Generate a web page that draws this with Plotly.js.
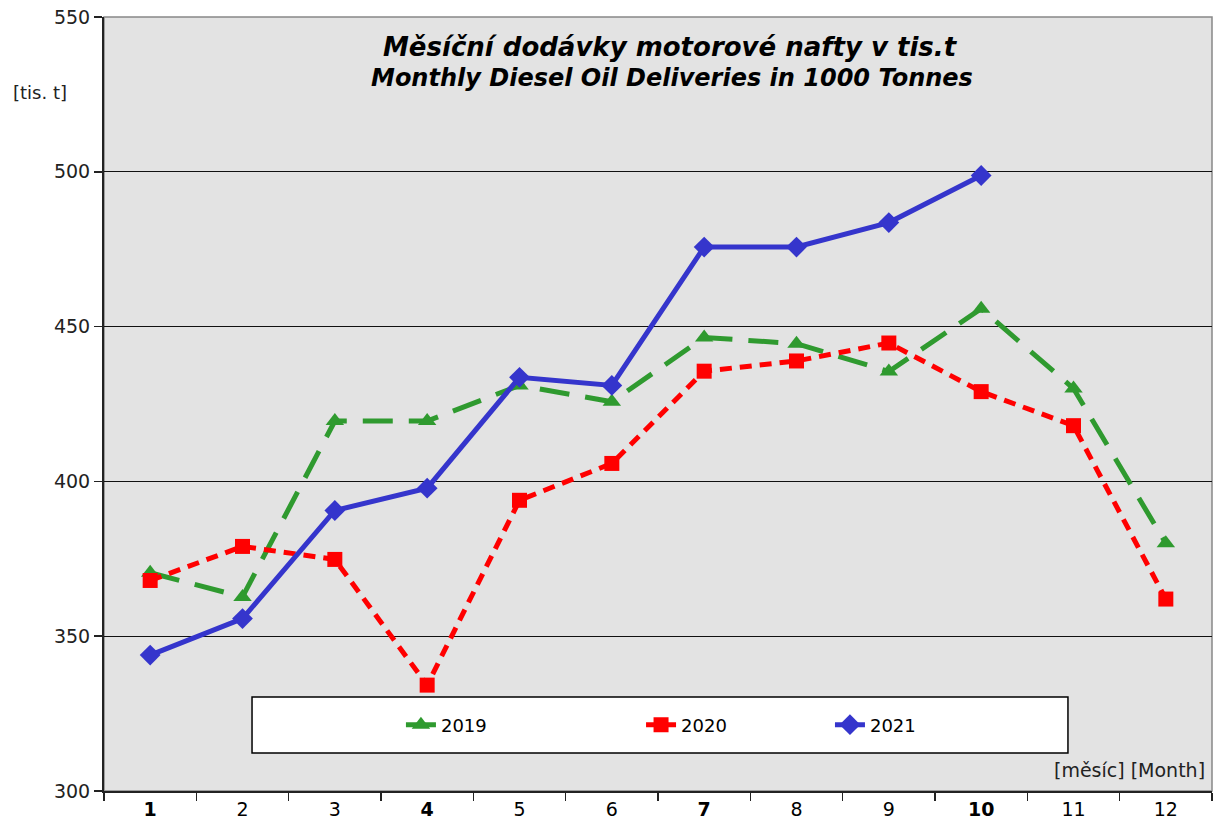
<!DOCTYPE html>
<html>
<head>
<meta charset="utf-8">
<script src="https://cdn.plot.ly/plotly-3.0.1.min.js"></script>
<style>html,body{margin:0;padding:0;background:#fff;}#chart{width:1218px;height:822px;}</style>
</head>
<body>
<div id="chart"></div>
<script>
// Data
var months = ['1','2','3','4','5','6','7','8','9','10','11','12'];
var tickLabels = ['<b>1</b>','2','3','<b>4</b>','5','6','<b>7</b>','8','9','<b>10</b>','11','12'];
var seriesNames = ['2019','2020','2021'];
var values2019 = [370.5, 362.7, 419.5, 419.5, 431, 425.7, 446.5, 444.5, 435.5, 455.8, 430, 380];
var values2020 = [368, 379, 374.8, 334.2, 393.9, 405.8, 435.6, 438.9, 444.7, 429, 418, 362];
var values2021 = [343.9, 355.7, 390.6, 397.8, 433.6, 431, 475.7, 475.7, 483.6, 498.8];
var yTicks = [300, 350, 400, 450, 500, 550];

var FONT = 'DejaVu Sans, Arial, sans-serif';

var traces = [
  {
    x: months, y: values2019, name: seriesNames[0], type: 'scatter', mode: 'lines+markers',
    line: {color: '#2f9a2f', width: 5, dash: '30px,16px'},
    marker: {symbol: 'triangle-up', size: 16, color: '#2f9a2f'},
    legend: 'legend'
  },
  {
    x: months, y: values2020, name: seriesNames[1], type: 'scatter', mode: 'lines+markers',
    line: {color: '#ff0000', width: 5, dash: '12px,8px'},
    marker: {symbol: 'square', size: 15, color: '#ff0000'},
    legend: 'legend2'
  },
  {
    x: months.slice(0, values2021.length), y: values2021, name: seriesNames[2], type: 'scatter', mode: 'lines+markers',
    line: {color: '#3535cc', width: 5},
    marker: {symbol: 'diamond', size: 16, color: '#3535cc'},
    legend: 'legend3'
  }
];

function leg(x) {
  return {
    x: x, y: 0.0853, xanchor: 'left', yanchor: 'middle',
    bgcolor: 'rgba(0,0,0,0)', borderwidth: 0,
    font: {family: FONT, size: 18, color: '#000'}
  };
}

var layout = {
  width: 1218, height: 822,
  margin: {l: 104, r: 6, t: 17, b: 31},
  paper_bgcolor: '#ffffff',
  plot_bgcolor: '#e3e3e3',
  showlegend: true,
  hovermode: false,
  font: {family: FONT, size: 19, color: '#222'},
  xaxis: {
    type: 'category',
    tickmode: 'array', tickvals: months, ticktext: tickLabels,
    tickson: 'boundaries',
    ticks: 'outside', ticklen: 8, tickwidth: 1.5, tickcolor: '#222',
    showline: true, linecolor: '#222', linewidth: 2,
    showgrid: false, zeroline: false,
    tickfont: {family: FONT, size: 19, color: '#000'},
    range: [-0.5, 11.5]
  },
  yaxis: {
    range: [300, 550],
    tickmode: 'array', tickvals: yTicks,
    ticks: 'outside', ticklen: 8, tickwidth: 1.5, tickcolor: '#222',
    showline: true, linecolor: '#222', linewidth: 2,
    showgrid: true, gridcolor: '#111', gridwidth: 1,
    zeroline: false,
    tickfont: {family: FONT, size: 19, color: '#222'}
  },
  legend: leg(0.268),
  legend2: leg(0.4847),
  legend3: leg(0.6552),
  shapes: [
    {type: 'rect', xref: 'paper', yref: 'paper', x0: 0, x1: 1, y0: 0, y1: 1,
     line: {color: '#888', width: 1.5}, fillcolor: 'rgba(0,0,0,0)', layer: 'below'},
    {type: 'rect', xref: 'paper', yref: 'paper', x0: 0.1336, x1: 0.870, y0: 0.0491, y1: 0.1214,
     line: {color: '#000', width: 1.5}, fillcolor: '#ffffff', layer: 'above'}
  ],
  annotations: [
    {xref: 'paper', yref: 'paper', x: 0.511, y: (791 - 47) / 774, xanchor: 'center', yanchor: 'middle',
     text: '<b><i>Měsíční dodávky motorové nafty v tis.t</i></b>', showarrow: false,
     font: {family: FONT, size: 26, color: '#000'}},
    {xref: 'paper', yref: 'paper', x: 0.5125, y: (791 - 78) / 774, xanchor: 'center', yanchor: 'middle',
     text: '<b><i>Monthly Diesel Oil Deliveries in 1000 Tonnes</i></b>', showarrow: false,
     font: {family: FONT, size: 24, color: '#000'}},
    {xref: 'paper', yref: 'paper', x: (40 - 104) / 1108, y: (791 - 93) / 774, xanchor: 'center', yanchor: 'middle',
     text: '[tis. t]', showarrow: false,
     font: {family: FONT, size: 18, color: '#222'}},
    {xref: 'paper', yref: 'paper', x: (1207 - 104) / 1108, y: (791 - 770) / 774, xanchor: 'right', yanchor: 'middle',
     text: '[měsíc] [Month]', showarrow: false,
     font: {family: FONT, size: 19, color: '#222'}}
  ]
};

Plotly.newPlot('chart', traces, layout, {staticPlot: true, displayModeBar: false});
</script>
</body>
</html>
